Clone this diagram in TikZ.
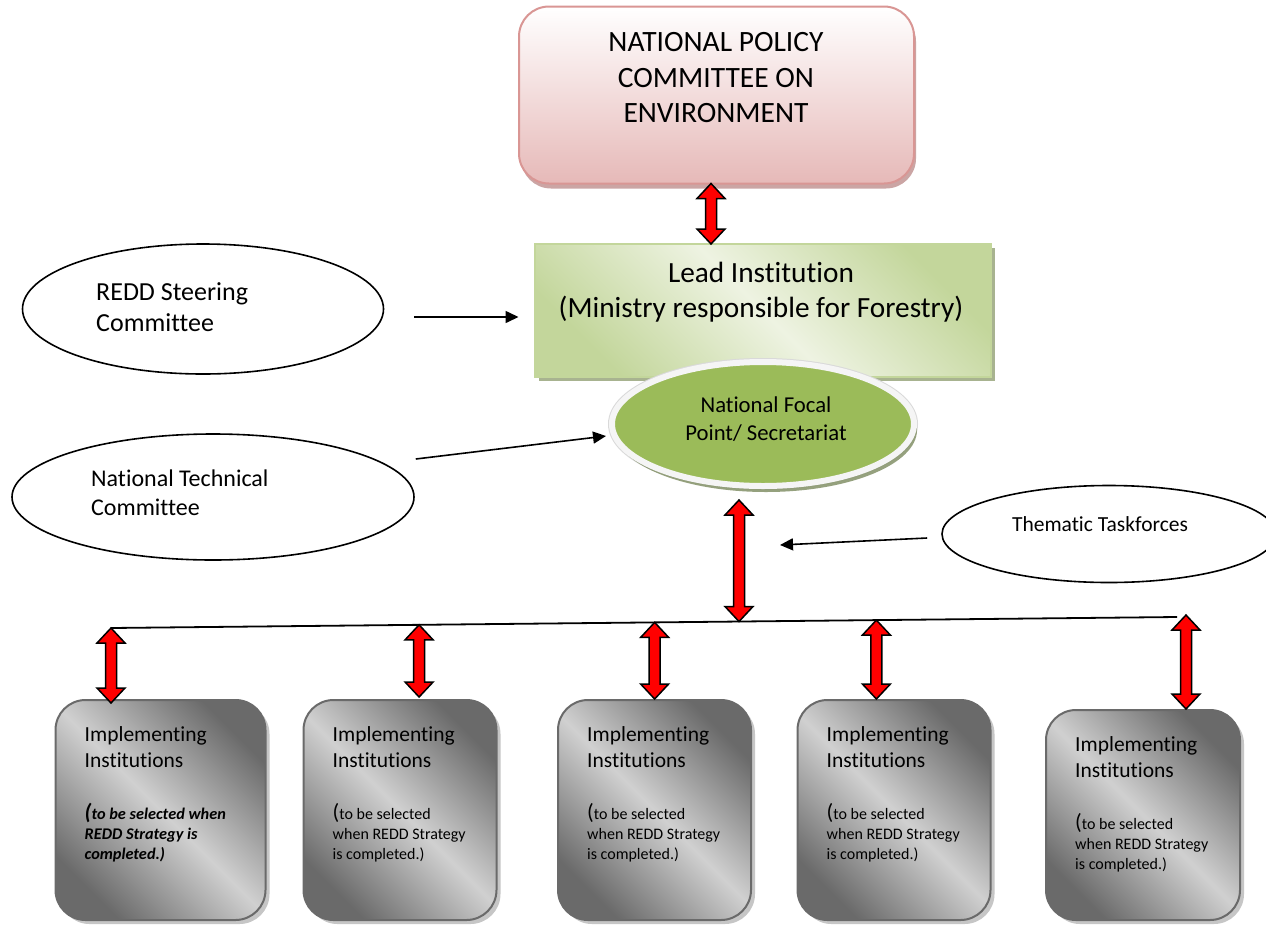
\documentclass[tikz,border=0pt]{standalone}
\usepackage{fontspec}
\setmainfont{Carlito}[Ligatures={NoCommon,TeX}]
\usetikzlibrary{calc,shadows,shapes.geometric,arrows.meta}
\definecolor{pinkb}{HTML}{D99694}
\definecolor{pinkf}{HTML}{E6B9B8}
\definecolor{greenb}{HTML}{C3D69B}
\definecolor{greenl}{HTML}{EEF3E2}
\definecolor{focalg}{HTML}{9BBB59}
\definecolor{grayd}{HTML}{6A6A6A}
\definecolor{grayl}{HTML}{D0D0D0}
\begin{document}
\begin{tikzpicture}[x=1pt,y=-1pt,
  topbox/.style={draw=pinkb, line width=2pt, rounded corners=30pt,
    top color=white, bottom color=pinkf,
    minimum width=395pt, minimum height=177pt, inner sep=0pt,
    drop shadow={shadow xshift=2pt, shadow yshift=-5pt, fill=pinkb!70!gray, opacity=0.8}},
  leadbox/.style={draw=greenb, line width=2pt, shading=axis,
    top color=greenb, bottom color=greenb, middle color=greenl, shading angle=-45,
    minimum width=456pt, minimum height=133pt, inner sep=0pt,
    drop shadow={shadow xshift=4pt, shadow yshift=-4pt, fill=greenb!60!gray, opacity=1}},
  focalell/.style={ellipse, fill=focalg, draw=white!96!black, line width=6pt,
    preaction={draw=white!85!black, line width=8pt},
    minimum width=302pt, minimum height=124pt, inner sep=0pt,
    drop shadow={shadow xshift=3pt, shadow yshift=-6pt, fill=focalg!40!gray, opacity=0.9}},
  sideell/.style={ellipse, draw=black, line width=1.6pt, fill=white, inner sep=0pt},
  implbox/.style={draw=grayd, line width=2pt, rounded corners=30pt, shading=axis,
    top color=grayd, bottom color=grayd, middle color=grayl, shading angle=-45,
    minimum width=#1, minimum height=220pt, inner sep=0pt,
    drop shadow={shadow xshift=4pt, shadow yshift=-4pt, fill=gray!45, opacity=1}},
  txt/.style={inner sep=0pt, align=center},
  ltxt/.style={inner sep=0pt, align=left},
  titletxt/.style={inner sep=0pt, align=left, anchor=north west, font=\fontsize{21.5}{26}\selectfont},
  notetxt/.style={inner sep=0pt, align=left, anchor=north west, font=\fontsize{16}{20}\selectfont},
  blk/.style={draw=black, line width=1.6pt, -{Triangle[length=13pt,width=12pt]}},
  fat/.style={draw=black, fill=red, line width=1.5pt, line join=miter,
    to path={let \p1=(\tikztostart), \p2=(\tikztotarget) in
      (\x1,\y1) -- (\x1+14pt,\y1-15pt) -- (\x1+5.5pt,\y1-15pt) -- (\x1+5.5pt,\y2+15pt)
      -- (\x1+14pt,\y2+15pt) -- (\x1,\y2) -- (\x1-14pt,\y2+15pt) -- (\x1-5.5pt,\y2+15pt)
      -- (\x1-5.5pt,\y1-15pt) -- (\x1-14pt,\y1-15pt) -- cycle}}
]
\useasboundingbox (0,0) rectangle (1266,924);
\fill[white] (0,0) rectangle (1266,924);

% top box
\node[topbox] (top) at (716.5,95) {};
\node[txt, font=\fontsize{29.5}{35.5}\selectfont] (toptxt) at (716,78) {NATIONAL POLICY\\COMMITTEE ON\\ENVIRONMENT};

% lead box
\node[leadbox] (lead) at (762.5,310.5) {};
\node[txt, font=\fontsize{29.3}{35}\selectfont] (leadtxt) at (761,292) {Lead Institution\\(Ministry responsible for Forestry)};

% focal
\node[focalell] (focal) at (763,424) {};
\node[txt, font=\fontsize{22.7}{28}\selectfont] (focaltxt) at (766,419) {National Focal\\Point/ Secretariat};

% side ellipses
\node[sideell, minimum width=361pt, minimum height=130pt] (redd) at (203,309) {};
\node[ltxt, anchor=west, font=\fontsize{26}{31}\selectfont] (reddtxt) at (96,307) {REDD Steering\\Committee};
\node[sideell, minimum width=402pt, minimum height=126pt] (ntc) at (213,497) {};
\node[ltxt, anchor=west, font=\fontsize{24}{29}\selectfont] (ntctxt) at (91,493) {National Technical\\Committee};
\node[sideell, minimum width=334pt, minimum height=97pt] (them) at (1109,534) {};
\node[txt, font=\fontsize{21.5}{26}\selectfont] (themtxt) at (1100,524) {Thematic Taskforces};

% implementing boxes
\node[implbox=210pt] (b1) at (160.5,810) {};
\node[implbox=193pt] (b2) at (400,810) {};
\node[implbox=193pt] (b3) at (654.5,810) {};
\node[implbox=193pt] (b4) at (894,810) {};
\node[implbox=194pt] (b5) at (1143,815) [minimum height=210pt] {};

\foreach \b in {b1,b2,b3,b4,b5}{
  \node[titletxt] (\b t) at ($(\b.north west)+(30,27)$) {Implementing\\Institutions};
}
\node[notetxt, font=\fontsize{16.3}{20}\selectfont\bfseries\itshape] (b1n) at ($(b1.north west)+(30,104)$)
  {{\fontsize{22}{20}\selectfont(}to be selected when\\REDD Strategy is\\completed.)};
\foreach \b in {b2,b3,b4,b5}{
  \node[notetxt] (\b n) at ($(\b.north west)+(30,104)$)
    {{\fontsize{22}{20}\selectfont(}to be selected\\when REDD Strategy\\is completed.)};
}

% bus line
\coordinate (busL) at (111,628);
\coordinate (busR) at (1177,617);
\draw[line width=1.8pt] (busL) -- (busR);
\coordinate (p2) at ($(busL)!0.289!(busR)$);
\coordinate (p3) at ($(busL)!0.510!(busR)$);
\coordinate (p4) at ($(busL)!0.718!(busR)$);
\coordinate (pm) at ($(busL)!0.589!(busR)$);
\coordinate (p5) at ($(busR)+(9,-2)$);

% red double arrows
\draw[fat] ($(top.south)+(-5.5,-1)$) to ($(top.south |- lead.north)+(-5.5,1)$);
\draw[fat] ($(focal.south)+(-24,11)$) to (pm);
\draw[fat] (busL) to ($(b1.north -| busL)+(0,4)$);
\draw[fat] (p2) to ($(b2.north -| p2)+(0,-2)$);
\draw[fat] (p3) to ($(b3.north -| p3)$);
\draw[fat] (p4) to ($(b4.north -| p4)$);
\draw[fat] (p5) to ($(b5.north -| p5)$);

% black arrows
\draw[blk] ($(redd.east)+(30,8)$) -- ($(lead.west |- redd.east)+(-15,8)$);
\draw[blk] ($(ntc.east)+(1,-38)$) -- ($(focal.west)+(-3,12)$);
\draw[blk] ($(them.west)+(-14,4)$) -- ($(focal.south)+(17,56)$);
\end{tikzpicture}
\end{document}
